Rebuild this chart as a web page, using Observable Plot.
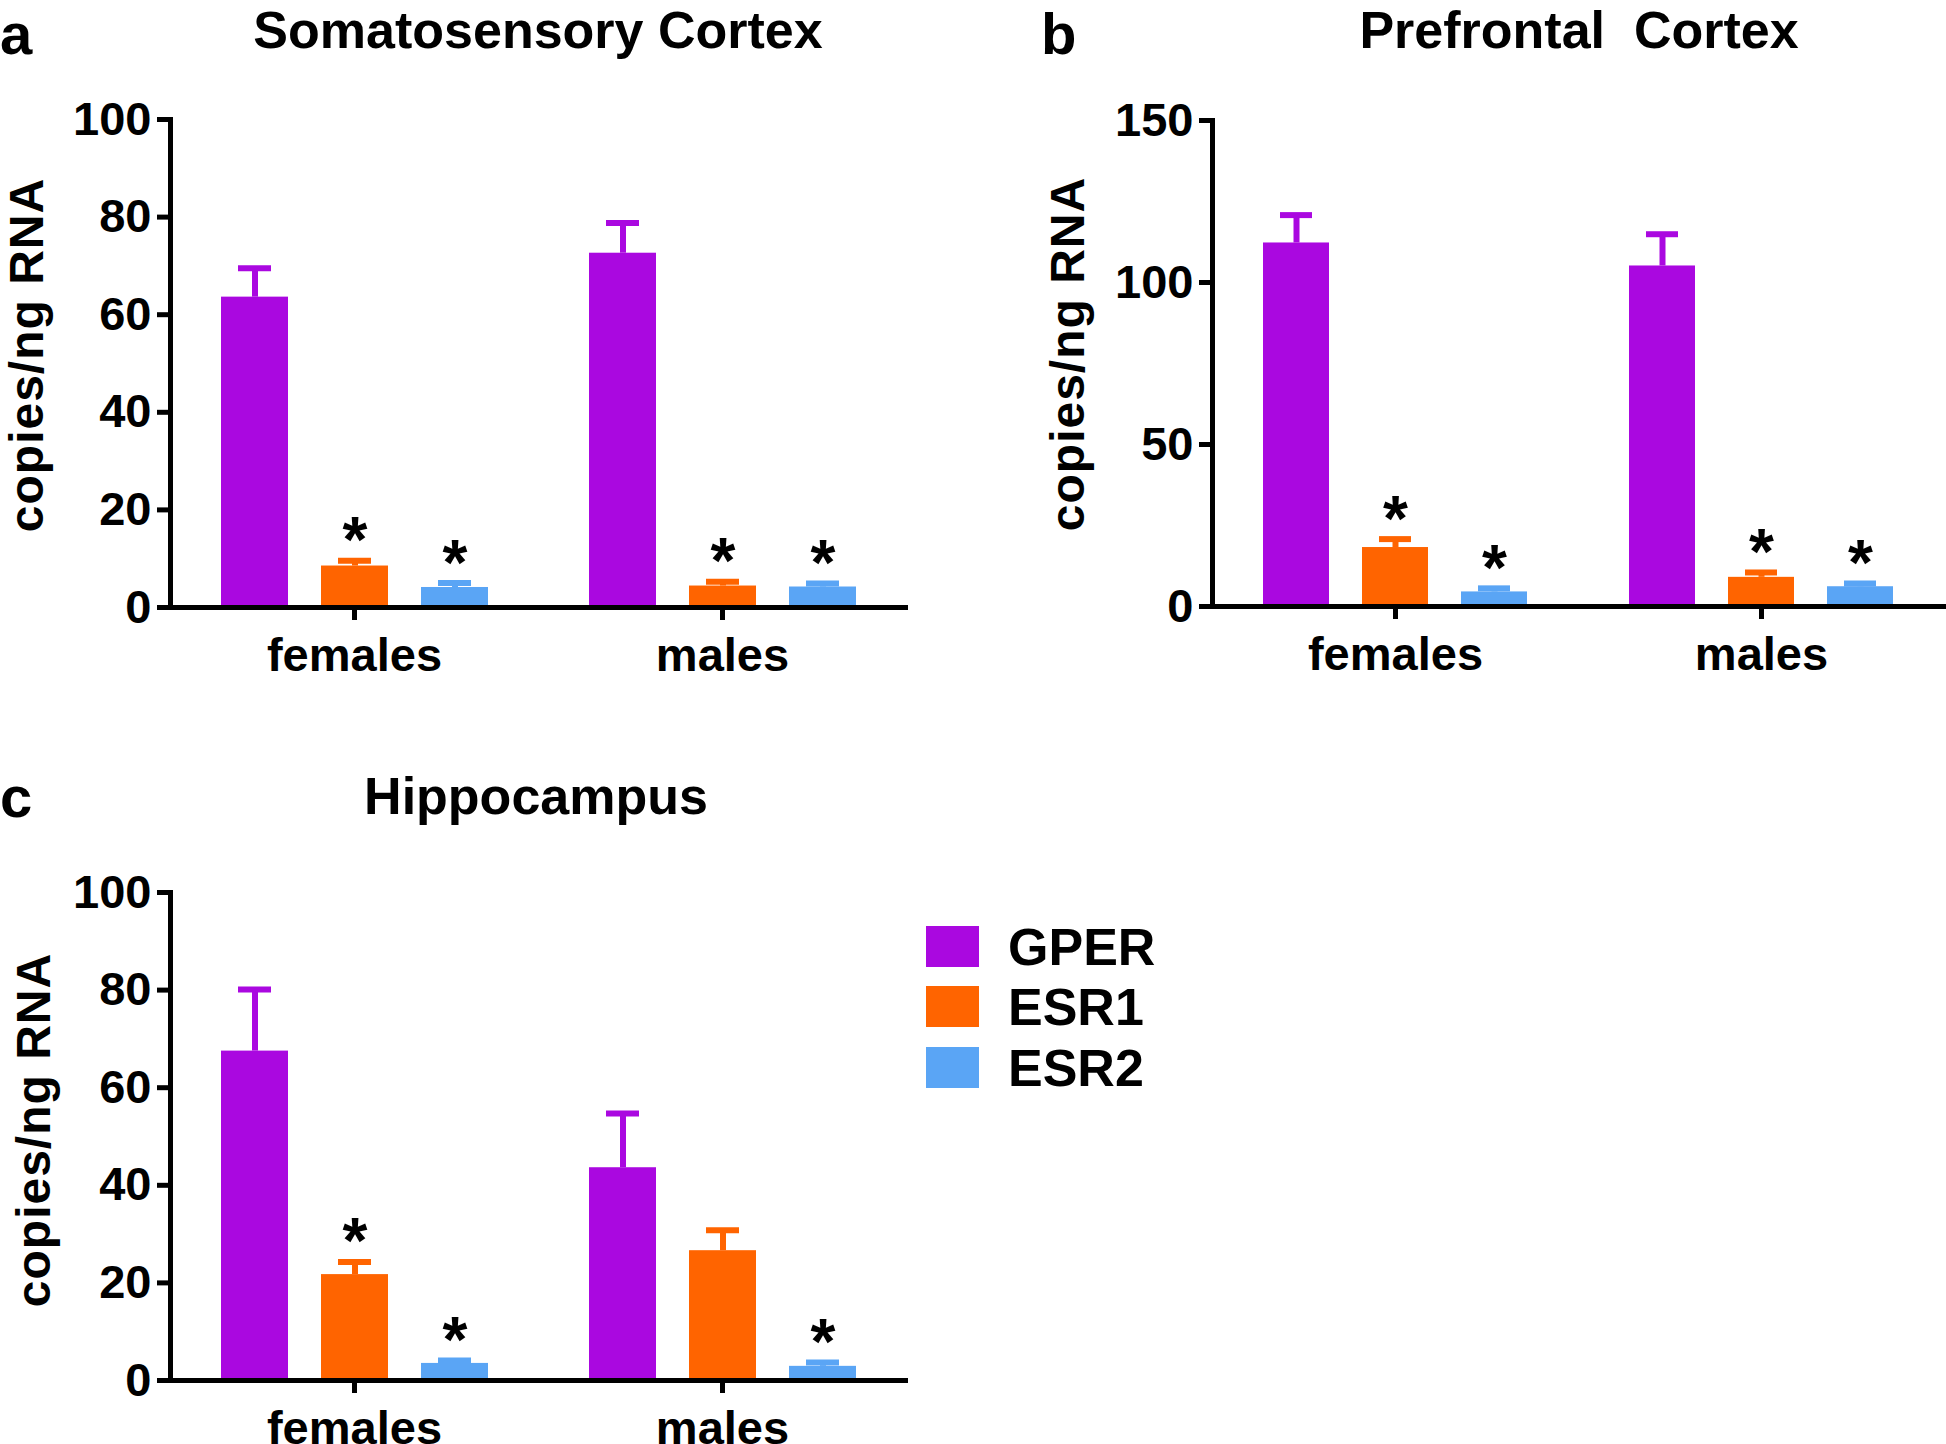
<!DOCTYPE html>
<html>
<head>
<meta charset="utf-8">
<script src="https://cdn.jsdelivr.net/npm/d3@7"></script>
<script src="https://cdn.jsdelivr.net/npm/@observablehq/plot@0.6"></script>
<style>
html, body { margin: 0; padding: 0; background: #fff; }
body { width: 1946px; height: 1444px; position: relative; overflow: hidden;
  font-family: "Liberation Sans", Arial, sans-serif; font-weight: bold; color: #000; }
.title { position: absolute; font-size: 52px; white-space: pre; line-height: normal; transform: translateX(-50%); }
.letter { position: absolute; font-size: 58px; line-height: normal; }
.ylab { position: absolute; font-size: 48px; letter-spacing: 1px; white-space: nowrap; line-height: 1; transform: translate(-50%, -50%) rotate(-90deg); }
.panel { position: absolute; }
.panel svg { overflow: visible; }
.panel svg [aria-label*="axis"], .panel svg [aria-label*="axis"] *,
.panel svg [aria-label="frame"], .panel svg [aria-label="frame"] * { stroke-width: 5px; }
.sw { position: absolute; width: 53px; height: 41px; }
.lt { position: absolute; font-size: 52px; line-height: 1; white-space: nowrap; }
</style>
</head>
<body>
<div id="root"></div>
<script>
// ---- data ----
const groups = ["females", "males"];
const genes = ["GPER", "ESR1", "ESR2"];
const geneColors = ["#aa08e0", "#ff6400", "#5aa5f5"];

// order: females GPER, ESR1, ESR2, males GPER, ESR1, ESR2
const somMean  = [63.6, 8.5, 4.1, 72.6, 4.4, 4.2];
const somUpper = [69.5, 9.6, 5.0, 78.8, 5.3, 4.9];
const somSig   = [false, true, true, false, true, true];

const pfcMean  = [112.2, 18.2, 4.5, 105.1, 9.0, 6.1];
const pfcUpper = [120.8, 20.8, 5.6, 114.9, 10.5, 7.1];
const pfcSig   = [false, true, true, false, true, true];

const hipMean  = [67.5, 21.7, 3.5, 43.6, 26.6, 2.9];
const hipUpper = [80.1, 24.3, 4.1, 54.7, 30.8, 3.7];
const hipSig   = [false, true, true, false, false, true];

const yTicksSom = [0, 20, 40, 60, 80, 100];
const yTicksPfc = [0, 50, 100, 150];
const yTicksHip = [0, 20, 40, 60, 80, 100];

const titles = ["Somatosensory Cortex", "Prefrontal  Cortex", "Hippocampus"];
const letters = ["a", "b", "c"];
const yLabel = "copies/ng RNA";

// ---- build ----
const root = document.getElementById("root");

function rows(mean, upper, sig) {
  const out = [];
  groups.forEach((g, gi) => genes.forEach((k, ki) => {
    const i = gi * genes.length + ki;
    out.push({group: g, gene: k, mean: mean[i], upper: upper[i], sig: sig[i]});
  }));
  return out;
}

function panel({mean, upper, sig, yDomain, yTicks, left, top, width, height, marginLeft, marginRight, marginTop, marginBottom}) {
  const data = rows(mean, upper, sig);
  const chart = Plot.plot({
    width, height, marginLeft, marginRight, marginTop, marginBottom,
    style: {fontFamily: "'Liberation Sans', Arial, sans-serif", fontSize: "47px", fontWeight: "bold",
            background: "none", color: "black", overflow: "visible"},
    fx: {domain: groups, padding: 0, label: null, axis: "bottom", tickSize: 13, tickPadding: 17},
    x: {domain: genes, paddingInner: 0.33, paddingOuter: 0.5, axis: null},
    y: {domain: yDomain, ticks: yTicks, tickSize: 13, tickPadding: 6, line: true, label: null},
    color: {domain: genes, range: geneColors},
    marks: [
      Plot.barY(data, {fx: "group", x: "gene", y: "mean", fill: "gene"}),
      Plot.ruleX(data, {fx: "group", x: "gene", y1: "mean", y2: "upper", stroke: "gene", strokeWidth: 6}),
      Plot.tickY(data, {fx: "group", x: "gene", y: "upper", stroke: "gene", strokeWidth: 6, insetLeft: 17, insetRight: 17}),
      Plot.ruleY([0], {stroke: "black", strokeWidth: 5, insetLeft: -2, insetRight: -2}),
      Plot.text(data.filter(d => d.sig), {fx: "group", x: "gene", y: "upper", text: () => "*",
        fontSize: 64, fontWeight: "bold", fill: "black", dy: -19})
    ]
  });
  const div = document.createElement("div");
  div.className = "panel";
  div.style.left = left + "px";
  div.style.top = top + "px";
  div.style.width = width + "px";
  div.style.height = height + "px";
  div.appendChild(chart);
  root.appendChild(div);
}

function addText(cls, text, x, y) {
  const d = document.createElement("div");
  d.className = cls;
  d.textContent = text;
  d.style.left = x + "px";
  d.style.top = y + "px";
  root.appendChild(d);
  return d;
}

panel({mean: somMean, upper: somUpper, sig: somSig, yDomain: [0, 100], yTicks: yTicksSom,
  left: 0, top: 90, width: 920, height: 597, marginLeft: 170, marginRight: 14, marginTop: 29, marginBottom: 80});
panel({mean: pfcMean, upper: pfcUpper, sig: pfcSig, yDomain: [0, 150], yTicks: yTicksPfc,
  left: 1042, top: 91, width: 904, height: 595, marginLeft: 170, marginRight: 2, marginTop: 29, marginBottom: 80});
panel({mean: hipMean, upper: hipUpper, sig: hipSig, yDomain: [0, 100], yTicks: yTicksHip,
  left: 0, top: 863, width: 920, height: 597, marginLeft: 170, marginRight: 14, marginTop: 29, marginBottom: 80});

// titles
addText("title", titles[0], 538, 0);
addText("title", titles[1], 1579, 0);
addText("title", titles[2], 536, 766);

// panel letters
addText("letter", letters[0], 0, 0);
addText("letter", letters[1], 1041, 0);
addText("letter", letters[2], 0, 763);

// y labels
addText("ylab", yLabel, 27, 355);
addText("ylab", yLabel, 1068, 354);
addText("ylab", yLabel, 34, 1130);

// legend
const swTops = [926, 986, 1047];
genes.forEach((g, i) => {
  const s = document.createElement("div");
  s.className = "sw";
  s.style.left = "926px";
  s.style.top = swTops[i] + "px";
  s.style.background = geneColors[i];
  root.appendChild(s);
  addText("lt", g, 1008, swTops[i] - 5);
});
</script>
</body>
</html>
